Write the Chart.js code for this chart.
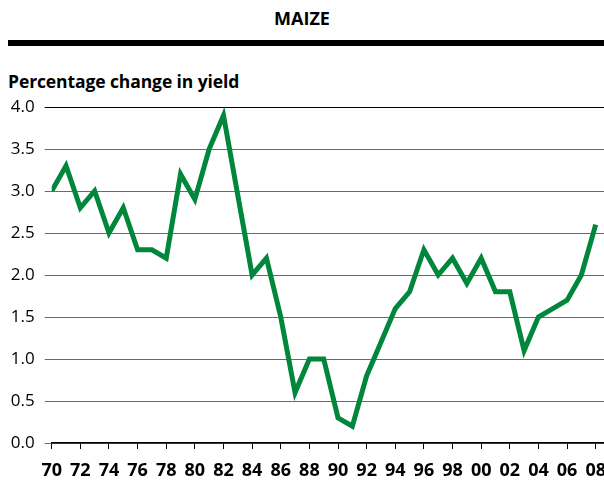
<!DOCTYPE html>
<html>
<head>
<meta charset="utf-8">
<script src="https://cdn.jsdelivr.net/npm/chart.js@4"></script>
<style>
  html, body { margin: 0; padding: 0; background: #fff; }
  #wrap { position: relative; width: 604px; height: 482px; overflow: hidden; font-family: "Open Sans", "Noto Sans", sans-serif; }
  #title { position: absolute; left: 0; width: 604px; top: 6px; text-align: center; font-weight: bold; font-size: 18px; color: #000; }
  #rule { position: absolute; left: 8px; right: 0; top: 40px; height: 6px; background: #000; }
  #ytitle { position: absolute; left: 8px; top: 69px; font-weight: bold; font-size: 17.5px; color: #000; letter-spacing: -0.1px; }
  canvas { position: absolute; left: 0; top: 0; }
</style>
</head>
<body>
<div id="wrap">
  <div id="title">MAIZE</div>
  <div id="rule"></div>
  <div id="ytitle">Percentage change in yield</div>
  <canvas id="chart" width="604" height="482"></canvas>
</div>
<script>
// maize yield, % change
const years = [1970, 1971, 1972, 1973, 1974, 1975, 1976, 1977, 1978, 1979,
               1980, 1981, 1982, 1983, 1984, 1985, 1986, 1987, 1988, 1989,
               1990, 1991, 1992, 1993, 1994, 1995, 1996, 1997, 1998, 1999,
               2000, 2001, 2002, 2003, 2004, 2005, 2006, 2007, 2008];
const yieldChange = [3.0, 3.3, 2.8, 3.0, 2.5, 2.8, 2.3, 2.3, 2.2, 3.2,
                     2.9, 3.5, 3.9, 2.95, 2.0, 2.2, 1.5, 0.6, 1.0, 1.0,
                     0.3, 0.2, 0.8, 1.2, 1.6, 1.8, 2.3, 2.0, 2.2, 1.9,
                     2.2, 1.8, 1.8, 1.1, 1.5, 1.6, 1.7, 2.0, 2.6];
const yTicks = [0.0, 0.5, 1.0, 1.5, 2.0, 2.5, 3.0, 3.5, 4.0];

const points = years.map((y, i) => ({ x: y, y: yieldChange[i] }));

new Chart(document.getElementById('chart').getContext('2d'), {
    type: 'line',
    data: {
        datasets: [{
            data: points,
            borderColor: '#00873c',
            borderWidth: 5,
            pointRadius: 0,
            tension: 0,
            fill: false
        }]
    },
    options: {
        responsive: false,
        animation: false,
        layout: { padding: { top: 107, right: 0, bottom: 0, left: 0 } },
        plugins: { legend: { display: false }, tooltip: { enabled: false } },
        scales: {
            x: {
                type: 'linear',
                min: 1970,
                max: 2008.58,
                afterBuildTicks: s => { s.ticks = years.filter(y => y % 2 === 0).map(v => ({ value: v })); },
                afterFit: s => { s.height = 39; s.paddingRight = 0; },
                ticks: {
                    autoSkip: false,
                    maxRotation: 0,
                    padding: 11,
                    color: '#000',
                    font: { family: '"Open Sans", "Noto Sans", sans-serif', size: 18, weight: 'bold' },
                    callback: v => String(v % 100).padStart(2, '0')
                },
                grid: { drawOnChartArea: false, drawTicks: true, tickLength: 6, color: '#000', lineWidth: 1 },
                border: { display: true, color: '#000', width: 1.5 }
            },
            y: {
                min: 0,
                max: 4,
                afterBuildTicks: s => { s.ticks = yTicks.map(v => ({ value: v })); },
                afterFit: s => { s.width = 51.7; },
                ticks: {
                    padding: 10,
                    color: '#000',
                    font: { family: '"Open Sans", "Noto Sans", sans-serif', size: 17 },
                    callback: v => Number(v).toFixed(1)
                },
                grid: {
                    tickLength: 7,
                    color: c => (c.tick && c.tick.value === 4 ? '#000' : '#6b6b6b'),
                    lineWidth: 1
                },
                border: { display: false }
            }
        }
    }
});
</script>
</body>
</html>
